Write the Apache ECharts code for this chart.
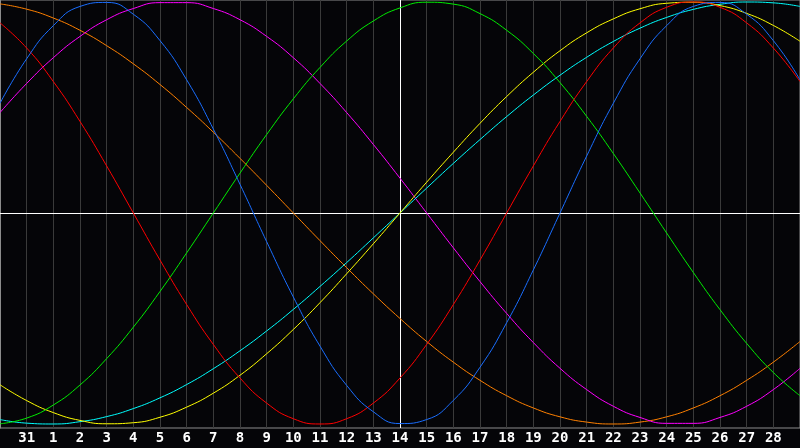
<!DOCTYPE html>
<html>
<head>
<meta charset="utf-8">
<script src="https://cdn.jsdelivr.net/npm/echarts@6/dist/echarts.min.js"></script>
<style>
html,body{margin:0;padding:0;background:#050508;}
#c{width:800px;height:448px;}
</style>
</head>
<body>
<div id="c"></div>
<script>
// Day labels (first and last ticks are not labelled)
const days = ['30','31','1','2','3','4','5','6','7','8','9','10','11','12','13','14','15','16','17','18','19','20','21','22','23','24','25','26','27','28','29'];
const markedDay = '14';

const blueVals    = [52.0,73.1,88.8,97.9,99.8,94.2,81.7,63.1,39.8,13.6,-13.6,-39.8,-63.1,-81.7,-94.2,-99.8,-97.9,-88.8,-73.1,-52.0,-27.0,0,27.0,52.0,73.1,88.8,97.9,99.8,94.2,81.7,63.1];
const redVals     = [90.1,78.2,62.3,43.4,22.3,0,-22.3,-43.4,-62.3,-78.2,-90.1,-97.5,-100,-97.5,-90.1,-78.2,-62.3,-43.4,-22.3,0,22.3,43.4,62.3,78.2,90.1,97.5,100,97.5,90.1,78.2,62.3];
const greenVals   = [-99.9,-97.2,-91.0,-81.5,-69.0,-54.1,-37.2,-18.9,0,18.9,37.2,54.1,69.0,81.5,91.0,97.2,99.9,99.0,94.5,86.6,75.6,61.8,45.8,28.2,9.5,-9.5,-28.2,-45.8,-61.8,-75.6,-86.6];
const magentaVals = [47.6,61.4,73.6,83.7,91.6,96.9,99.7,99.7,96.9,91.6,83.7,73.6,61.4,47.6,32.5,16.5,0,-16.5,-32.5,-47.6,-61.4,-73.6,-83.7,-91.6,-96.9,-99.7,-99.7,-96.9,-91.6,-83.7,-73.6];
const orangeVals  = [99.1,96.6,92.4,86.6,79.3,70.7,60.9,50.0,38.3,25.9,13.1,0,-13.1,-25.9,-38.3,-50.0,-60.9,-70.7,-79.3,-86.6,-92.4,-96.6,-99.1,-100,-99.1,-96.6,-92.4,-86.6,-79.3,-70.7,-60.9];
const yellowVals  = [-81.4,-88.9,-94.6,-98.3,-99.9,-99.4,-96.8,-92.0,-85.4,-76.9,-66.7,-55.2,-42.5,-28.8,-14.6,0,14.6,28.8,42.5,55.2,66.7,76.9,85.4,92.0,96.8,99.4,99.9,98.3,94.6,88.9,81.4];
const cyanVals    = [-97.9,-99.6,-100.0,-98.9,-96.5,-92.7,-87.6,-81.3,-73.8,-65.3,-55.9,-45.7,-34.8,-23.5,-11.8,0,11.8,23.5,34.8,45.7,55.9,65.3,73.8,81.3,87.6,92.7,96.5,98.9,100.0,99.6,97.9];

const seriesDefs = [
  {name:'orange',  data:orangeVals,  color:'#ff8000'},
  {name:'magenta', data:magentaVals, color:'#ff00ff'},
  {name:'cyan',    data:cyanVals,    color:'#00ffff'},
  {name:'yellow',  data:yellowVals,  color:'#ffff00'},
  {name:'green',   data:greenVals,   color:'#00ee00'},
  {name:'red',     data:redVals,     color:'#ff0000'},
  {name:'blue',    data:blueVals,    color:'#1a6eff'}
];

const chart = echarts.init(document.getElementById('c'), null, {renderer:'canvas'});
const series = seriesDefs.map((s, i) => ({
  name: s.name,
  type: 'line',
  data: s.data,
  smooth: 0.5,
  symbol: 'none',
  lineStyle: {color: s.color, width: 1},
  itemStyle: {color: s.color},
  z: 3,
  markLine: i === 0 ? {
    silent: true,
    symbol: 'none',
    label: {show: false},
    lineStyle: {color: '#ffffff', width: 1, type: 'solid'},
    z: 2,
    data: [{yAxis: 0}, {xAxis: markedDay}]
  } : undefined
}));

chart.setOption({
  animation: false,
  backgroundColor: '#050508',
  grid: {left: 0, right: 0, top: 0, bottom: 20, show: true, borderColor: '#8c8c8c', borderWidth: 1, backgroundColor: 'transparent'},
  xAxis: {
    type: 'category',
    data: days,
    boundaryGap: false,
    axisLine: {show: true, lineStyle: {color: '#a8a8a8', width: 1}},
    axisTick: {show: false},
    splitLine: {show: true, interval: 0, lineStyle: {color: '#3a3a3a', width: 1}},
    axisLabel: {
      show: true,
      interval: (idx) => idx > 0 && idx < days.length - 1,
      color: '#ffffff',
      fontFamily: 'DejaVu Sans Mono',
      fontWeight: 'bold',
      fontSize: 14,
      margin: 3
    }
  },
  yAxis: {
    type: 'value',
    min: -101.9,
    max: 100.95,
    axisLine: {show: true, lineStyle: {color: '#8c8c8c'}},
    axisTick: {show: false},
    axisLabel: {show: false},
    splitLine: {show: false}
  },
  series: series
});
</script>
</body>
</html>
